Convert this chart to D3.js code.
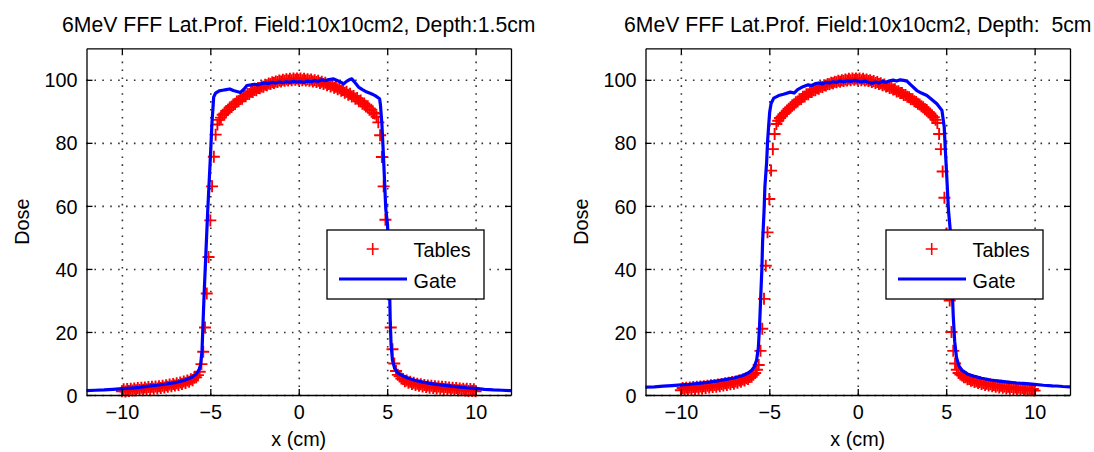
<!DOCTYPE html>
<html>
<head>
<meta charset="utf-8">
<script src="https://cdn.jsdelivr.net/npm/d3@7"></script>
<style>
  html, body { margin: 0; padding: 0; background: #fff; }
  svg { display: block; font-family: "Liberation Sans", Arial, sans-serif; }
  text { white-space: pre; }
</style>
</head>
<body>
<svg id="chart" width="1094" height="452"></svg>
<script>
// ---------------- DATA ----------------
const titles = [
  "6MeV FFF Lat.Prof. Field:10x10cm2, Depth:1.5cm",
  "6MeV FFF Lat.Prof. Field:10x10cm2, Depth:  5cm"
];
const xTicks = [-10, -5, 0, 5, 10];
const yTicks = [0, 20, 40, 60, 80, 100];
const xDomain = [-12, 12];
const yDomain = [0, 110];
const seriesNames = ["Tables", "Gate"];
const xLabel = "x (cm)";
const yLabel = "Dose";

// Depth 1.5 cm : measured "Tables" points [x, dose]
const tables15 = [
  [-10.0,1.2],[-9.9,1.8],[-9.8,1.1],[-9.7,1.9],[-9.6,1.3],[-9.5,2.0],[-9.4,1.4],[-9.3,2.1],[-9.2,1.5],[-9.1,2.2],
  [-9.0,1.6],[-8.9,2.3],[-8.8,1.7],[-8.7,2.4],[-8.6,1.8],[-8.5,2.5],[-8.4,1.9],[-8.3,2.6],[-8.2,2.0],[-8.1,2.7],
  [-8.0,2.1],[-7.9,2.8],[-7.8,2.2],[-7.7,2.9],[-7.6,2.4],[-7.5,3.1],[-7.4,2.6],[-7.3,3.3],[-7.2,2.8],[-7.1,3.5],
  [-7.0,3.0],[-6.9,3.7],[-6.8,3.2],[-6.7,4.0],[-6.6,3.5],[-6.5,4.3],[-6.4,3.8],[-6.3,4.6],[-6.2,4.2],[-6.1,5.0],
  [-6.0,4.7],[-5.9,5.5],[-5.8,5.6],[-5.7,6.3],[-5.6,7.4],[-5.5,9.8],[-5.4,13.7],[-5.3,21.4],[-5.2,32.2],[-5.1,43.8],
  [-5.0,55.4],[-4.9,66.2],[-4.8,75.6],[-4.7,82.6],[-4.6,85.8],[-4.5,87.3],[-4.4,88.0],[-4.3,88.9],[-4.2,89.3],[-4.1,90.1],
  [-4.0,90.4],[-3.9,91.2],[-3.8,91.4],[-3.7,92.2],[-3.6,92.3],[-3.5,93.1],[-3.4,93.2],[-3.3,94.0],[-3.2,94.0],[-3.1,94.8],
  [-3.0,94.8],[-2.9,95.5],[-2.8,95.5],[-2.7,96.2],[-2.6,96.1],[-2.5,96.8],[-2.4,96.7],[-2.3,97.4],[-2.2,97.3],[-2.1,97.9],
  [-2.0,97.8],[-1.9,98.4],[-1.8,98.3],[-1.7,98.8],[-1.6,98.7],[-1.5,99.2],[-1.4,99.0],[-1.3,99.5],[-1.2,99.3],[-1.1,99.8],
  [-1.0,99.5],[-0.9,100.0],[-0.8,99.7],[-0.7,100.2],[-0.6,99.8],[-0.5,100.3],[-0.4,99.9],[-0.3,100.4],[-0.2,100.0],[-0.1,100.4],
  [0.0,100.0],
  [0.1,100.4],[0.2,99.9],[0.3,100.3],[0.4,99.8],[0.5,100.2],[0.6,99.7],[0.7,100.1],[0.8,99.5],[0.9,99.9],[1.0,99.3],
  [1.1,99.7],[1.2,99.0],[1.3,99.4],[1.4,98.7],[1.5,99.1],[1.6,98.3],[1.7,98.7],[1.8,97.9],[1.9,98.3],[2.0,97.5],
  [2.1,97.8],[2.2,97.0],[2.3,97.3],[2.4,96.5],[2.5,96.8],[2.6,95.9],[2.7,96.2],[2.8,95.3],[2.9,95.6],[3.0,94.7],
  [3.1,94.9],[3.2,94.0],[3.3,94.2],[3.4,93.2],[3.5,93.4],[3.6,92.4],[3.7,92.5],[3.8,91.5],[3.9,91.6],[4.0,90.5],
  [4.1,90.5],[4.2,89.5],[4.3,89.3],[4.4,88.3],[4.5,86.5],[4.6,82.4],[4.7,75.5],[4.8,66.2],[4.9,55.6],[5.0,44.0],
  [5.1,33.0],[5.2,21.4],[5.3,14.5],[5.4,10.0],[5.5,7.6],[5.6,6.4],[5.7,5.9],[5.8,5.2],[5.9,5.1],[6.0,4.4],
  [6.1,4.6],[6.2,3.9],[6.3,4.2],[6.4,3.5],[6.5,3.9],[6.6,3.2],[6.7,3.6],[6.8,2.9],[6.9,3.4],[7.0,2.7],
  [7.1,3.2],[7.2,2.5],[7.3,3.0],[7.4,2.3],[7.5,2.9],[7.6,2.2],[7.7,2.8],[7.8,2.1],[7.9,2.7],[8.0,2.0],
  [8.1,2.6],[8.2,1.9],[8.3,2.5],[8.4,1.8],[8.5,2.4],[8.6,1.7],[8.7,2.3],[8.8,1.6],[8.9,2.2],[9.0,1.5],
  [9.1,2.1],[9.2,1.5],[9.3,2.0],[9.4,1.4],[9.5,2.0],[9.6,1.3],[9.7,1.9],[9.8,1.3],[9.9,1.8],[10.0,1.2]
];
// Depth 1.5 cm : "Gate" calculated profile [x, dose]
const gate15 = [
  [-12,1.4],[-11.5,1.5],[-11,1.6],[-10.5,1.8],[-10,2.0],[-9.5,2.2],[-9,2.4],[-8.5,2.8],[-8,3.1],[-7.5,3.5],
  [-7,3.9],[-6.5,4.6],[-6.2,5.2],[-6.0,5.8],[-5.8,6.6],[-5.65,7.8],[-5.55,9.5],[-5.47,14],[-5.42,21.5],
  [-5.35,32],[-5.25,45],[-5.15,58],[-5.08,66],[-5.0,75],[-4.95,81],[-4.9,87],[-4.85,91],[-4.81,94.5],
  [-4.7,95.8],[-4.5,96.5],[-4.3,96.7],[-4.1,96.9],[-3.9,97.1],[-3.7,96.6],[-3.5,96.3],[-3.3,96.0],[-3.1,97.0],
  [-2.93,98.2],[-2.7,98.4],[-2.5,98.6],[-2.3,98.4],[-2.1,98.8],[-1.9,99.0],[-1.7,98.8],[-1.5,99.2],[-1.3,99.0],
  [-1.1,99.3],[-0.9,99.1],[-0.7,99.4],[-0.5,99.2],[-0.3,99.5],[-0.1,99.3],[0.1,99.4],[0.3,99.2],[0.5,99.6],
  [0.7,99.4],[0.9,99.8],[1.1,99.5],[1.3,100.0],[1.5,99.7],[1.7,100.1],[1.97,100.3],[2.2,99.7],[2.4,99.2],
  [2.53,98.7],[2.7,99.5],[2.85,100.0],[3.0,100.3],[3.2,99.0],[3.38,97.7],[3.6,96.9],[3.85,96.1],[4.1,95.6],
  [4.32,95.0],[4.57,94.0],[4.62,92.0],[4.7,86],[4.78,77],[4.85,68],[4.92,59],[5.02,54],[5.08,45],[5.13,35],
  [5.17,24],[5.22,16],[5.3,11],[5.42,8.5],[5.6,7.0],[5.9,6.0],[6.2,5.3],[6.6,4.6],[7.0,4.1],[7.5,3.6],
  [8,3.2],[8.5,2.9],[9,2.6],[9.5,2.3],[10,2.1],[10.5,1.8],[11,1.6],[11.5,1.5],[12,1.4]
];
// Depth 5 cm : measured "Tables" points [x, dose]
const tables5 = [
  [-10.0,1.5],[-9.9,2.2],[-9.8,1.6],[-9.7,2.3],[-9.6,1.7],[-9.5,2.4],[-9.4,1.8],[-9.3,2.5],[-9.2,1.9],[-9.1,2.6],
  [-9.0,2.0],[-8.9,2.7],[-8.8,2.1],[-8.7,2.8],[-8.6,2.2],[-8.5,2.9],[-8.4,2.4],[-8.3,3.1],[-8.2,2.5],[-8.1,3.2],
  [-8.0,2.6],[-7.9,3.3],[-7.8,2.8],[-7.7,3.5],[-7.6,3.0],[-7.5,3.7],[-7.4,3.2],[-7.3,3.9],[-7.2,3.4],[-7.1,4.1],
  [-7.0,3.6],[-6.9,4.3],[-6.8,3.9],[-6.7,4.6],[-6.6,4.2],[-6.5,4.9],[-6.4,4.6],[-6.3,5.3],[-6.2,5.1],[-6.1,5.7],
  [-6.0,5.8],[-5.9,6.4],[-5.8,7.0],[-5.7,8.0],[-5.6,9.5],[-5.5,14.0],[-5.4,21.0],[-5.3,30.5],[-5.2,41.0],[-5.1,51.6],
  [-5.0,62.2],[-4.9,71.2],[-4.8,78.0],[-4.7,82.8],[-4.6,86.0],[-4.5,87.0],[-4.4,87.9],[-4.3,88.4],[-4.2,89.1],[-4.1,89.6],
  [-4.0,90.2],[-3.9,90.8],[-3.8,91.2],[-3.7,91.9],[-3.6,92.2],[-3.5,92.9],[-3.4,93.1],[-3.3,93.8],[-3.2,93.9],[-3.1,94.6],
  [-3.0,94.7],[-2.9,95.4],[-2.8,95.4],[-2.7,96.1],[-2.6,96.1],[-2.5,96.7],[-2.4,96.7],[-2.3,97.3],[-2.2,97.2],[-2.1,97.8],
  [-2.0,97.7],[-1.9,98.3],[-1.8,98.2],[-1.7,98.7],[-1.6,98.6],[-1.5,99.1],[-1.4,98.9],[-1.3,99.4],[-1.2,99.2],[-1.1,99.7],
  [-1.0,99.4],[-0.9,99.9],[-0.8,99.6],[-0.7,100.1],[-0.6,99.8],[-0.5,100.3],[-0.4,99.9],[-0.3,100.4],[-0.2,100.0],[-0.1,100.4],
  [0.0,100.0],
  [0.1,100.4],[0.2,99.9],[0.3,100.3],[0.4,99.8],[0.5,100.1],[0.6,99.6],[0.7,99.9],[0.8,99.3],[0.9,99.6],[1.0,99.0],
  [1.1,99.3],[1.2,98.7],[1.3,98.9],[1.4,98.3],[1.5,98.5],[1.6,97.9],[1.7,98.0],[1.8,97.4],[1.9,97.5],[2.0,96.9],
  [2.1,97.0],[2.2,96.3],[2.3,96.4],[2.4,95.8],[2.5,95.8],[2.6,95.2],[2.7,95.2],[2.8,94.6],[2.9,94.5],[3.0,93.9],
  [3.1,93.8],[3.2,93.2],[3.3,93.0],[3.4,92.4],[3.5,92.2],[3.6,91.6],[3.7,91.3],[3.8,90.7],[3.9,90.4],[4.0,89.7],
  [4.1,89.3],[4.2,88.6],[4.3,88.1],[4.4,87.3],[4.5,86.3],[4.6,82.8],[4.7,78.0],[4.8,70.9],[4.9,62.6],[5.0,51.0],
  [5.1,41.0],[5.2,30.0],[5.3,20.0],[5.4,14.0],[5.5,10.0],[5.6,8.0],[5.7,7.0],[5.8,6.5],[5.9,6.2],[6.0,5.6],
  [6.1,5.6],[6.2,5.0],[6.3,5.1],[6.4,4.5],[6.5,4.7],[6.6,4.1],[6.7,4.4],[6.8,3.8],[6.9,4.1],[7.0,3.5],
  [7.1,3.8],[7.2,3.2],[7.3,3.6],[7.4,3.0],[7.5,3.4],[7.6,2.8],[7.7,3.2],[7.8,2.6],[7.9,3.0],[8.0,2.4],
  [8.1,2.9],[8.2,2.3],[8.3,2.7],[8.4,2.1],[8.5,2.6],[8.6,2.0],[8.7,2.5],[8.8,1.9],[8.9,2.4],[9.0,1.8],
  [9.1,2.3],[9.2,1.7],[9.3,2.2],[9.4,1.6],[9.5,2.1],[9.6,1.5],[9.7,2.0],[9.8,1.5],[9.9,1.9],[10.0,1.4]
];
// Depth 5 cm : "Gate" calculated profile [x, dose]
const gate5 = [
  [-12,2.5],[-11.5,2.6],[-11,2.8],[-10.5,3.0],[-10,3.2],[-9.5,3.4],[-9,3.7],[-8.5,4.0],[-8,4.4],[-7.5,4.9],
  [-7,5.4],[-6.5,6.2],[-6.2,7.0],[-6.0,7.8],[-5.85,9.0],[-5.72,11],[-5.62,15],[-5.55,22],[-5.48,32],
  [-5.42,40],[-5.38,48.6],[-5.3,58],[-5.25,66],[-5.15,74],[-5.1,80.2],[-5.03,86],[-4.98,89.7],[-4.9,92.5],
  [-4.75,94.2],[-4.47,95.0],[-4.2,95.4],[-3.81,96.1],[-3.6,95.8],[-3.4,96.9],[-3.2,97.5],[-3.06,97.9],
  [-2.8,98.4],[-2.6,98.2],[-2.4,98.8],[-2.2,99.0],[-2.0,98.7],[-1.8,99.2],[-1.6,99.0],[-1.4,99.4],[-1.2,99.2],
  [-1.0,99.6],[-0.8,99.3],[-0.6,99.7],[-0.4,99.5],[-0.2,99.8],[0,99.6],[0.2,99.3],[0.4,99.6],[0.6,99.2],
  [0.8,98.9],[1.0,99.3],[1.2,99.0],[1.4,99.5],[1.6,99.2],[1.8,99.7],[2.0,99.9],[2.2,99.6],[2.4,100.0],
  [2.6,99.8],[2.78,99.6],[3.0,98.4],[3.34,96.6],[3.6,95.8],[3.91,95.0],[4.2,93.7],[4.47,92.4],[4.76,90.3],
  [4.89,85],[4.94,79],[5.04,68.5],[5.13,58.6],[5.23,52.3],[5.28,44],[5.33,35],[5.4,25],[5.48,17],[5.58,12],
  [5.72,9.2],[5.9,7.8],[6.2,6.7],[6.6,5.9],[7.0,5.3],[7.5,4.75],[8,4.4],[8.5,4.1],[9,3.8],[9.37,3.7],
  [10,3.4],[10.5,3.1],[11,2.9],[11.25,2.85],[11.6,2.7],[12,2.6]
];

const panelsData = [
  { title: titles[0], tables: tables15, gate: gate15 },
  { title: titles[1], tables: tables5, gate: gate5 }
];

// ---------------- LAYOUT ----------------
const svg = d3.select("#chart");
const panelX = [86.5, 645.5];
const plotW = 424.5, plotTop = 48.3, plotBottom = 395;
const plotH = plotBottom - plotTop;
const fontAxis = 19.8, fontTitle = 21.2;

panelsData.forEach((p, i) => {
  const x0 = panelX[i];
  const g = svg.append("g").attr("transform", `translate(${x0},${plotTop})`);
  const x = d3.scaleLinear().domain(xDomain).range([0, plotW]);
  const y = d3.scaleLinear().domain(yDomain).range([plotH, 0]);

  // grid
  const gx = g.append("g").attr("transform", `translate(0,${plotH})`)
    .call(d3.axisBottom(x).tickValues(xTicks).tickSize(-plotH).tickFormat(""));
  const gy = g.append("g")
    .call(d3.axisLeft(y).tickValues(yTicks).tickSize(-plotW).tickFormat(""));
  [gx, gy].forEach(a => {
    a.select(".domain").remove();
    a.selectAll("line").attr("stroke", "#333").attr("stroke-width", 1.6)
      .attr("stroke-dasharray", "1.6 6.3");
  });

  // Tables markers (+)
  const ms = 6;
  g.append("g").selectAll("path").data(p.tables).join("path")
    .attr("d", d => `M${x(d[0]) - ms},${y(d[1])}H${x(d[0]) + ms}M${x(d[0])},${y(d[1]) - ms}V${y(d[1]) + ms}`)
    .attr("stroke", "#ff0000").attr("stroke-width", 1.9).attr("fill", "none");

  // Gate line
  g.append("path").datum(p.gate)
    .attr("d", d3.line().x(d => x(d[0])).y(d => y(d[1])))
    .attr("fill", "none").attr("stroke", "#0000ff").attr("stroke-width", 3.2)
    .attr("stroke-linejoin", "round");

  // axes with inward ticks
  const tickLen = 6;
  const styleAxis = a => {
    a.select(".domain").attr("stroke", "#000").attr("stroke-width", 1.3);
    a.selectAll(".tick line").attr("stroke", "#000").attr("stroke-width", 1.3);
    a.selectAll("text").attr("fill", "#000").style("font-size", fontAxis + "px")
      .style("font-family", '"Liberation Sans", Arial, sans-serif');
  };
  const axB = g.append("g").attr("transform", `translate(0,${plotH})`)
    .call(d3.axisBottom(x).tickValues(xTicks).tickSize(-tickLen).tickSizeOuter(0).tickPadding(10));
  const axT = g.append("g")
    .call(d3.axisTop(x).tickValues(xTicks).tickSize(-tickLen).tickSizeOuter(0).tickFormat(""));
  const axL = g.append("g")
    .call(d3.axisLeft(y).tickValues(yTicks).tickSize(-tickLen).tickSizeOuter(0).tickPadding(9));
  const axR = g.append("g").attr("transform", `translate(${plotW},0)`)
    .call(d3.axisRight(y).tickValues(yTicks).tickSize(-tickLen).tickSizeOuter(0).tickFormat(""));
  [axB, axT, axL, axR].forEach(styleAxis);
  axL.selectAll("text").attr("dy", "0.36em");

  // title
  svg.append("text").attr("x", x0 + plotW / 2).attr("y", 32)
    .attr("text-anchor", "middle").style("font-size", fontTitle + "px").attr("fill", "#000")
    .text(p.title);
  // x label
  svg.append("text").attr("x", x0 + plotW / 2).attr("y", 446)
    .attr("text-anchor", "middle").style("font-size", fontAxis + "px").attr("fill", "#000")
    .text(xLabel);
  // y label
  svg.append("text")
    .attr("transform", `translate(${x0 - 57.5},${plotTop + plotH / 2}) rotate(-90)`)
    .attr("text-anchor", "middle").style("font-size", fontAxis + "px").attr("fill", "#000")
    .text(yLabel);

  // legend
  const lgW = 157, lgH = 69;
  const lg = g.append("g").attr("transform", `translate(${plotW - 27 - lgW},${230 - plotTop})`);
  lg.append("rect").attr("width", lgW).attr("height", lgH)
    .attr("fill", "#fff").attr("stroke", "#000").attr("stroke-width", 1.3);
  lg.append("path").attr("d", `M${45.7 - ms},19H${45.7 + ms}M45.7,${19 - ms}V${19 + ms}`)
    .attr("stroke", "#ff0000").attr("stroke-width", 1.6);
  lg.append("line").attr("x1", 12).attr("x2", 80).attr("y1", 49).attr("y2", 49)
    .attr("stroke", "#0000ff").attr("stroke-width", 3.2);
  lg.append("text").attr("x", 86.5).attr("y", 27).style("font-size", fontAxis + "px")
    .attr("fill", "#000").text(seriesNames[0]);
  lg.append("text").attr("x", 86.5).attr("y", 57.5).style("font-size", fontAxis + "px")
    .attr("fill", "#000").text(seriesNames[1]);
});
</script>
</body>
</html>
